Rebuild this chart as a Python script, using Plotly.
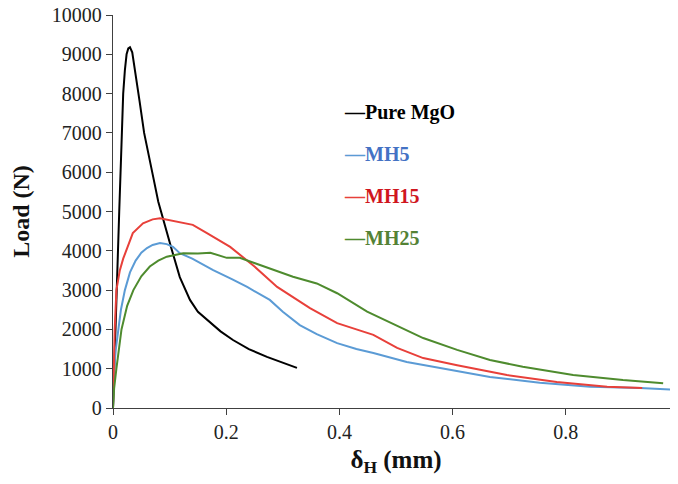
import plotly.graph_objects as go

# Pure MgO
mgo_x = [0.0, 0.002, 0.005, 0.007, 0.011, 0.015, 0.018, 0.021, 0.024, 0.027, 0.030, 0.034, 0.040, 0.047, 0.055,
         0.063, 0.071, 0.080, 0.092, 0.104, 0.118, 0.136, 0.150, 0.166, 0.190, 0.212, 0.240, 0.272, 0.300, 0.325]
mgo_y = [0, 1000, 2200, 3000, 5000, 6700, 8000, 8600, 9000, 9150, 9180, 9050, 8500, 7800, 7000,
         6400, 5880, 5250, 4600, 4020, 3330, 2750, 2450, 2240, 1950, 1730, 1500, 1300, 1150, 1020]

# MH5
mh5_x = [0.0, 0.002, 0.005, 0.009, 0.014, 0.021, 0.030, 0.040, 0.050, 0.060, 0.070, 0.083, 0.095, 0.106, 0.118,
         0.140, 0.177, 0.210, 0.237, 0.277, 0.300, 0.330, 0.360, 0.396, 0.430, 0.460, 0.519, 0.578, 0.666,
         0.754, 0.843, 0.931, 0.998]
mh5_y = [0, 1000, 1500, 2000, 2500, 3000, 3450, 3750, 3950, 4070, 4150, 4200, 4170, 4100, 3940,
         3800, 3510, 3280, 3080, 2750, 2450, 2110, 1880, 1650, 1500, 1400, 1170, 1020, 790,
         640, 540, 510, 460]

# MH15
mh15_x = [0.0, 0.001, 0.003, 0.006, 0.012, 0.018, 0.023, 0.035, 0.053, 0.070, 0.083, 0.100, 0.118, 0.141, 0.166,
          0.207, 0.250, 0.290, 0.348, 0.396, 0.430, 0.460, 0.502, 0.548, 0.608, 0.696, 0.784, 0.873, 0.935]
mh15_y = [0, 1000, 2000, 3000, 3500, 3800, 4000, 4450, 4700, 4800, 4830, 4780, 4740, 4660, 4450,
          4100, 3600, 3080, 2540, 2160, 2000, 1860, 1530, 1270, 1090, 840, 660, 540, 510]

# MH25
mh25_x = [0.0, 0.002, 0.006, 0.010, 0.015, 0.025, 0.036, 0.050, 0.065, 0.080, 0.095, 0.124, 0.150, 0.172, 0.190,
          0.201, 0.224, 0.260, 0.318, 0.360, 0.396, 0.449, 0.507, 0.548, 0.608, 0.666, 0.724, 0.813, 0.901, 0.972]
mh25_y = [0, 500, 1000, 1500, 2000, 2600, 3000, 3350, 3600, 3750, 3850, 3940, 3930, 3950, 3880,
          3820, 3820, 3640, 3340, 3170, 2920, 2450, 2060, 1780, 1480, 1220, 1050, 840, 710, 630]

series = [
    ("Pure MgO", mgo_x, mgo_y, "#000000", "#000000", 7530),
    ("MH5", mh5_x, mh5_y, "#5B9BD5", "#4472C4", 6460),
    ("MH15", mh15_x, mh15_y, "#E8403A", "#D0161E", 5390),
    ("MH25", mh25_x, mh25_y, "#4E8B2E", "#548235", 4330),
]

fig = go.Figure()
font_family = "Liberation Serif, DejaVu Serif, serif"
for name, xs, ys, lc, tc, ly in series:
    fig.add_trace(go.Scatter(x=xs, y=ys, mode="lines", name=name,
                             line=dict(color=lc, width=2), showlegend=False))
    fig.add_annotation(x=0.405, y=ly, xref="x", yref="y", xanchor="left", yanchor="middle",
                       showarrow=False,
                       text="<b><span style='color:%s'>—</span>%s</b>" % (lc, name),
                       font=dict(family=font_family, size=20, color=tc))

fig.update_layout(
    width=678, height=484,
    margin=dict(l=105, r=7, t=7, b=84),
    paper_bgcolor="white", plot_bgcolor="white",
    font=dict(family=font_family, size=20, color="#222222"),
    xaxis=dict(range=[0, 1.0], dtick=0.2, tick0=0, showgrid=False, zeroline=False, automargin=False,
               showline=True, linecolor="#404040", linewidth=1.3, ticklabeloverflow="allow",
               ticks="outside", ticklen=6, tickcolor="#404040", tickfont=dict(size=20),
               title=dict(text="<b>δ<sub>H</sub> (mm)</b>", font=dict(size=25, color="#111111"), standoff=8)),
    yaxis=dict(range=[0, 10000], dtick=1000, tickformat="d", showgrid=False, zeroline=False, automargin=False,
               showline=True, linecolor="#404040", linewidth=1.3, ticklabeloverflow="allow",
               ticks="outside", ticklen=6, tickcolor="#404040", tickfont=dict(size=20),
               title=dict(text="<b>Load (N)</b>", font=dict(size=24, color="#111111"), standoff=24)),
)

fig.write_html("out.html")
